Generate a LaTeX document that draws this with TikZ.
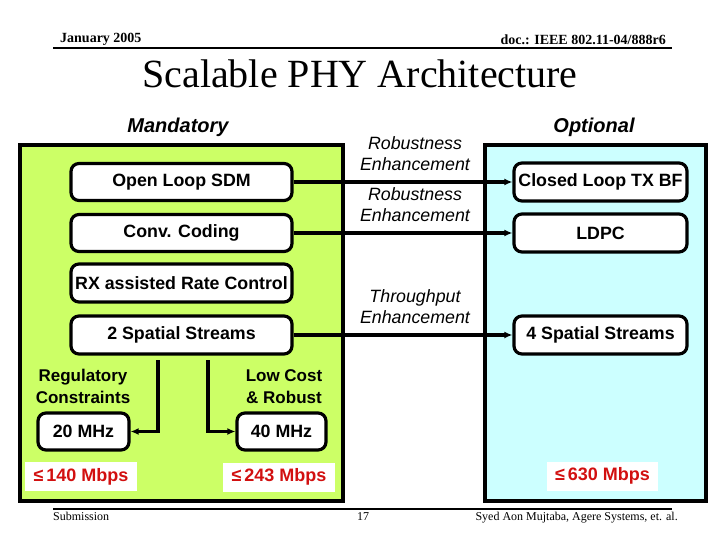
\documentclass[tikz,border=0pt]{standalone}
\usepackage{fontspec}
\setmainfont{Liberation Serif}
\setsansfont{Liberation Sans}
\usetikzlibrary{arrows.meta}
\definecolor{mgreen}{RGB}{204,255,102}
\definecolor{oblue}{RGB}{204,255,255}
\definecolor{mred}{RGB}{210,16,16}
\tikzset{
  panel/.style={draw=black, line width=3.2pt},
  feat/.style={draw=black, line width=3.2pt, fill=white, rounded corners=8pt,
    font=\sffamily\bfseries\fontsize{17.8}{20}\selectfont, inner sep=0pt, align=center},
  lbl/.style={font=\sffamily\itshape\fontsize{17.8}{21.5}\selectfont, align=center, inner sep=0pt},
  bwcap/.style={font=\sffamily\bfseries\fontsize{17}{21.5}\selectfont, align=center, inner sep=0pt},
  rate/.style={fill=white, text=mred, font=\sffamily\bfseries\fontsize{18}{20}\selectfont,
    minimum width=112pt, minimum height=29pt, inner sep=0pt},
  conn/.style={line width=3.2pt, -{Latex[length=8pt,width=7pt]}},
  head/.style={font=\rmfamily\fontsize{12}{14}\selectfont, inner sep=0pt},
}
\begin{document}
\begin{tikzpicture}[x=1pt,y=-1pt]
\useasboundingbox (0,0) rectangle (720,540);
% header
\node[head, font=\rmfamily\bfseries\fontsize{14}{15}\selectfont, anchor=base west] (date) at (60,43) {January 2005};
\node[head, font=\rmfamily\bfseries\fontsize{14}{15}\selectfont, anchor=base east] (doc) at (666,45) {doc.: IEEE 802.11-04/888r6};
\draw[line width=2.5pt] (53,48) -- (672,48);
\node[font=\rmfamily\fontsize{40}{44}\selectfont, inner sep=0pt, anchor=base] (title) at (360,88) {Scalable PHY Architecture};
% panels
\node[font=\sffamily\bfseries\itshape\fontsize{20}{22}\selectfont, inner sep=0pt] (mand) at (178,127) {Mandatory};
\node[font=\sffamily\bfseries\itshape\fontsize{20}{22}\selectfont, inner sep=0pt] (opt) at (594,127) {Optional};
\draw[panel, fill=mgreen] (20,145) rectangle (343,501);
\draw[panel, fill=oblue] (485,145) rectangle (706,501);
% mandatory features
\node[feat, minimum width=221pt, minimum height=37pt] (osdm) at (181.5,182) {Open Loop SDM};
\node[feat, minimum width=221pt, minimum height=37pt] (conv) at (181.5,233) {Conv. Coding};
\node[feat, minimum width=221pt, minimum height=38pt] (rx) at (181.5,283) {RX assisted Rate Control};
\node[feat, minimum width=221pt, minimum height=38pt] (ss2) at (181.5,335) {2 Spatial Streams};
% optional features
\node[feat, minimum width=173pt, minimum height=38pt] (clbf) at (600.5,182) {Closed Loop TX BF};
\node[feat, minimum width=173pt, minimum height=38pt] (ldpc) at (600.5,233) {LDPC};
\node[feat, minimum width=173pt, minimum height=38pt] (ss4) at (600.5,335) {4 Spatial Streams};
% bandwidth
\node[bwcap] (reg) at (83,386.5) {Regulatory\\Constraints};
\node[bwcap] (low) at (284,386.5) {Low Cost\\\& Robust};
\node[feat, minimum width=91pt, minimum height=37pt] (m20) at (83.5,431.5) {20 MHz};
\node[feat, minimum width=89pt, minimum height=37pt] (m40) at (281.5,431.5) {40 MHz};
\coordinate (s1) at (158,360);
\coordinate (s2) at (208,360);
\draw[conn] (s1) |- (m20.east);
\draw[conn] (s2) |- (m40.west);
% rates
\node[rate] (r140) at (81,476.5) {≤\,140 Mbps};
\node[rate] (r243) at (279,477) {≤\,243 Mbps};
\node[rate, minimum width=111pt] (r630) at (602.5,476) {≤\,630 Mbps};
% connectors
\draw[conn] (osdm.east) -- (clbf.west);
\draw[conn] (conv.east) -- (ldpc.west);
\draw[conn] (ss2.east) -- (ss4.west);
\node[lbl] (l1) at (415,153.5) {Robustness\\Enhancement};
\node[lbl] (l2) at (415,204.5) {Robustness\\Enhancement};
\node[lbl] (l3) at (415,306.5) {Throughput\\Enhancement};
% footer
\draw[line width=2.5pt] (53,509) -- (672,509);
\node[head, anchor=base west] (sub) at (53,520) {Submission};
\node[head, anchor=base] (pg) at (363,520) {17};
\node[head, anchor=base east] (auth) at (678,520) {Syed Aon Mujtaba, Agere Systems, et. al.};
\end{tikzpicture}
\end{document}
